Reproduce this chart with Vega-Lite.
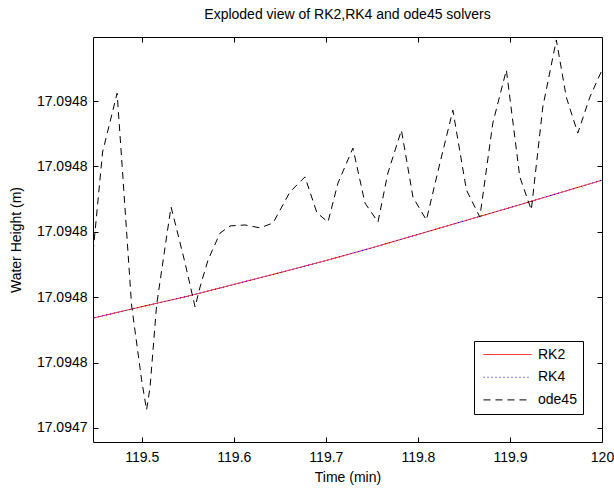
{
  "$schema": "https://vega.github.io/schema/vega-lite/v6.json",
  "width": 509,
  "height": 405,
  "autosize": {"type": "none"},
  "padding": {"left": 93, "top": 37, "right": 12, "bottom": 50},
  "background": "white",
  "title": {
    "text": "Exploded view of RK2,RK4 and ode45 solvers",
    "font": "Liberation Sans",
    "fontSize": 14,
    "fontWeight": "normal",
    "color": "black",
    "offset": 15
  },
  "config": {
    "view": {"stroke": null},
    "axis": {
      "domainColor": "black",
      "domainWidth": 1,
      "tickColor": "black",
      "tickWidth": 1,
      "tickSize": -5,
      "labelColor": "black",
      "titleColor": "black",
      "labelFont": "Liberation Sans",
      "titleFont": "Liberation Sans",
      "labelFontSize": 14,
      "titleFontSize": 14,
      "titleFontWeight": "normal",
      "grid": false
    }
  },
  "data": {
    "values": [
      {"series": "RK2", "time": 119.44, "height": 17.0947732},
      {"series": "RK2", "time": 119.45, "height": 17.0947738},
      {"series": "RK2", "time": 119.50, "height": 17.0947771},
      {"series": "RK2", "time": 119.55, "height": 17.0947803},
      {"series": "RK2", "time": 119.60, "height": 17.0947839},
      {"series": "RK2", "time": 119.65, "height": 17.0947875},
      {"series": "RK2", "time": 119.70, "height": 17.0947912},
      {"series": "RK2", "time": 119.75, "height": 17.0947951},
      {"series": "RK2", "time": 119.80, "height": 17.0947992},
      {"series": "RK2", "time": 119.85, "height": 17.0948033},
      {"series": "RK2", "time": 119.90, "height": 17.0948074},
      {"series": "RK2", "time": 119.95, "height": 17.0948116},
      {"series": "RK2", "time": 120.00, "height": 17.0948158},
      {"series": "RK4", "time": 119.44, "height": 17.0947732},
      {"series": "RK4", "time": 119.45, "height": 17.0947738},
      {"series": "RK4", "time": 119.50, "height": 17.0947771},
      {"series": "RK4", "time": 119.55, "height": 17.0947803},
      {"series": "RK4", "time": 119.60, "height": 17.0947839},
      {"series": "RK4", "time": 119.65, "height": 17.0947875},
      {"series": "RK4", "time": 119.70, "height": 17.0947912},
      {"series": "RK4", "time": 119.75, "height": 17.0947951},
      {"series": "RK4", "time": 119.80, "height": 17.0947992},
      {"series": "RK4", "time": 119.85, "height": 17.0948033},
      {"series": "RK4", "time": 119.90, "height": 17.0948074},
      {"series": "RK4", "time": 119.95, "height": 17.0948116},
      {"series": "RK4", "time": 120.00, "height": 17.0948158},
      {"series": "ode45", "time": 119.4471, "height": 17.0947938},
      {"series": "ode45", "time": 119.4574, "height": 17.0948244},
      {"series": "ode45", "time": 119.4732, "height": 17.0948424},
      {"series": "ode45", "time": 119.4786, "height": 17.0948204},
      {"series": "ode45", "time": 119.4889, "height": 17.0947776},
      {"series": "ode45", "time": 119.4998, "height": 17.0947547},
      {"series": "ode45", "time": 119.5052, "height": 17.0947455},
      {"series": "ode45", "time": 119.5090, "height": 17.0947525},
      {"series": "ode45", "time": 119.5161, "height": 17.0947776},
      {"series": "ode45", "time": 119.5269, "height": 17.0947984},
      {"series": "ode45", "time": 119.5318, "height": 17.0948076},
      {"series": "ode45", "time": 119.5362, "height": 17.0948027},
      {"series": "ode45", "time": 119.5470, "height": 17.0947905},
      {"series": "ode45", "time": 119.5579, "height": 17.0947770},
      {"series": "ode45", "time": 119.5633, "height": 17.0947831},
      {"series": "ode45", "time": 119.5720, "height": 17.0947914},
      {"series": "ode45", "time": 119.5850, "height": 17.0947996},
      {"series": "ode45", "time": 119.5959, "height": 17.0948018},
      {"series": "ode45", "time": 119.6122, "height": 17.0948021},
      {"series": "ode45", "time": 119.6284, "height": 17.0948012},
      {"series": "ode45", "time": 119.6426, "height": 17.0948027},
      {"series": "ode45", "time": 119.6610, "height": 17.0948122},
      {"series": "ode45", "time": 119.6773, "height": 17.0948168},
      {"series": "ode45", "time": 119.6903, "height": 17.0948058},
      {"series": "ode45", "time": 119.7023, "height": 17.0948030},
      {"series": "ode45", "time": 119.7131, "height": 17.0948149},
      {"series": "ode45", "time": 119.7294, "height": 17.0948256},
      {"series": "ode45", "time": 119.7425, "height": 17.0948088},
      {"series": "ode45", "time": 119.7566, "height": 17.0948030},
      {"series": "ode45", "time": 119.7674, "height": 17.0948180},
      {"series": "ode45", "time": 119.7821, "height": 17.0948311},
      {"series": "ode45", "time": 119.7946, "height": 17.0948106},
      {"series": "ode45", "time": 119.8092, "height": 17.0948036},
      {"series": "ode45", "time": 119.8239, "height": 17.0948210},
      {"series": "ode45", "time": 119.8380, "height": 17.0948372},
      {"series": "ode45", "time": 119.8527, "height": 17.0948128},
      {"series": "ode45", "time": 119.8673, "height": 17.0948045},
      {"series": "ode45", "time": 119.8814, "height": 17.0948333},
      {"series": "ode45", "time": 119.8961, "height": 17.0948495},
      {"series": "ode45", "time": 119.9107, "height": 17.0948168},
      {"series": "ode45", "time": 119.9232, "height": 17.0948067},
      {"series": "ode45", "time": 119.9357, "height": 17.0948382},
      {"series": "ode45", "time": 119.9504, "height": 17.0948587},
      {"series": "ode45", "time": 119.9612, "height": 17.0948412},
      {"series": "ode45", "time": 119.9737, "height": 17.0948302},
      {"series": "ode45", "time": 119.9868, "height": 17.0948412},
      {"series": "ode45", "time": 120.0000, "height": 17.0948495}
    ]
  },
  "resolve": {"axis": {"x": "independent", "y": "independent"}},
  "layer": [
    {
      "transform": [{"filter": "datum.series === 'RK2'"}],
      "mark": {"type": "line", "strokeWidth": 1, "clip": true},
      "encoding": {
        "x": {
          "field": "time", "type": "quantitative",
          "scale": {"domain": [119.447, 120], "nice": false, "zero": false},
          "axis": {
            "orient": "bottom", "title": "Time (min)",
            "values": [119.5, 119.6, 119.7, 119.8, 119.9, 120],
            "format": ".1~f", "labelPadding": 13, "titlePadding": 6, "labelFlush": false
          }
        },
        "y": {
          "field": "height", "type": "quantitative",
          "scale": {"domain": [17.0947357, 17.0948596], "nice": false, "zero": false},
          "axis": {
            "orient": "left", "title": "Water Height (m)",
            "values": [17.09474, 17.09476, 17.09478, 17.0948, 17.09482, 17.09484],
            "format": ".4f", "labelPadding": 11, "titlePadding": 13
          }
        },
        "color": {
          "field": "series", "type": "nominal",
          "scale": {"domain": ["RK2", "RK4", "ode45"], "range": ["#ff0000", "#0000ff", "#000000"]},
          "legend": {
            "title": null, "orient": "none", "legendX": 381, "legendY": 304,
            "symbolType": "stroke", "symbolSize": 2304, "symbolStrokeWidth": 1,
            "clipHeight": 15, "rowPadding": 7.7, "padding": 6, "symbolOffset": 3,
            "labelFont": "Liberation Sans", "labelFontSize": 14, "labelColor": "black",
            "labelOffset": 6, "strokeColor": "black", "fillColor": "white"
          }
        },
        "strokeDash": {
          "field": "series", "type": "nominal",
          "scale": {"domain": ["RK2", "RK4", "ode45"], "range": [[1, 0], [1, 3], [7, 5]]},
          "legend": {
            "title": null, "orient": "none", "legendX": 381, "legendY": 304,
            "symbolType": "stroke", "symbolSize": 2304, "symbolStrokeWidth": 1,
            "clipHeight": 15, "rowPadding": 7.7, "padding": 6, "symbolOffset": 3,
            "labelFont": "Liberation Sans", "labelFontSize": 14, "labelColor": "black",
            "labelOffset": 6, "strokeColor": "black", "fillColor": "white"
          }
        }
      }
    },
    {
      "transform": [{"filter": "datum.series === 'RK4'"}],
      "mark": {"type": "line", "strokeWidth": 1, "clip": true},
      "encoding": {
        "x": {"field": "time", "type": "quantitative", "axis": null},
        "y": {"field": "height", "type": "quantitative", "axis": null},
        "color": {"field": "series", "type": "nominal"},
        "strokeDash": {"field": "series", "type": "nominal"}
      }
    },
    {
      "transform": [{"filter": "datum.series === 'ode45'"}],
      "mark": {"type": "line", "strokeWidth": 1, "clip": true},
      "encoding": {
        "x": {"field": "time", "type": "quantitative", "axis": null},
        "y": {"field": "height", "type": "quantitative", "axis": null},
        "color": {"field": "series", "type": "nominal"},
        "strokeDash": {"field": "series", "type": "nominal"}
      }
    },
    {
      "transform": [{"filter": "datum.series === 'RK2'"}],
      "mark": {"type": "line", "strokeOpacity": 0, "clip": true},
      "encoding": {
        "x": {
          "field": "time", "type": "quantitative",
          "axis": {
            "orient": "top", "title": null, "labels": false,
            "values": [119.5, 119.6, 119.7, 119.8, 119.9, 120]
          }
        },
        "y": {
          "field": "height", "type": "quantitative",
          "axis": {
            "orient": "right", "title": null, "labels": false,
            "values": [17.09474, 17.09476, 17.09478, 17.0948, 17.09482, 17.09484]
          }
        }
      }
    }
  ]
}
